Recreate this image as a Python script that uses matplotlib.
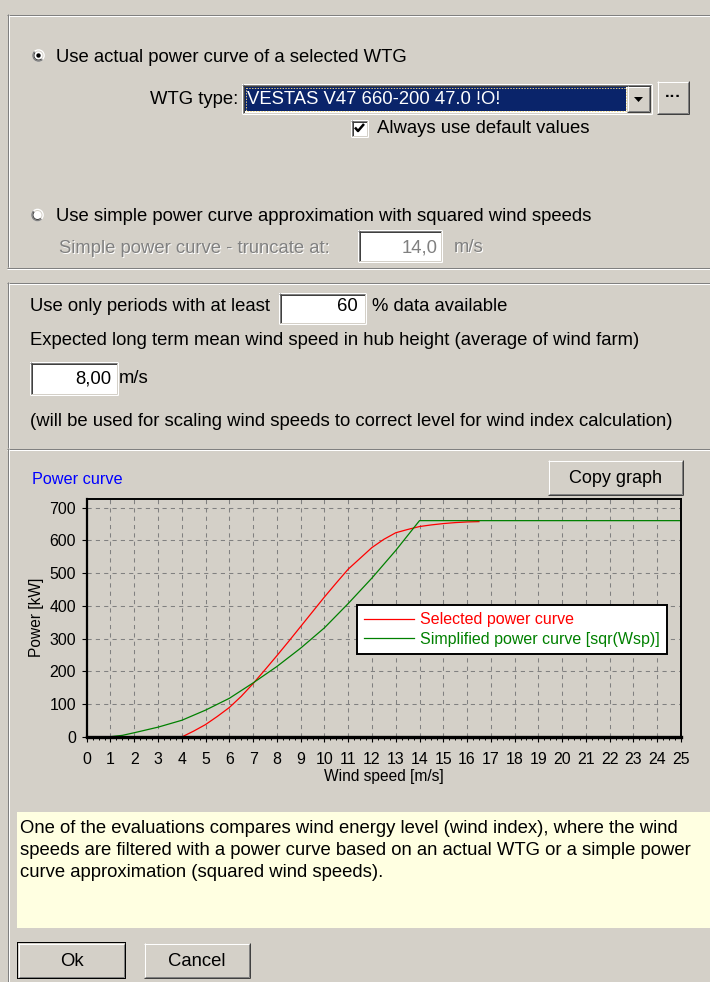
import matplotlib
matplotlib.use("Agg")
import matplotlib.pyplot as plt
from matplotlib.patches import Rectangle, Circle, Polygon, Wedge
from matplotlib.ticker import MultipleLocator

plt.rcParams['font.family'] = ['Liberation Sans', 'DejaVu Sans']
plt.rcParams['lines.scale_dashes'] = False

# ---------------- data ----------------
wind_selected = [4, 4.5, 5, 5.5, 6, 6.5, 7, 7.5, 8, 8.5, 9, 9.5, 10, 10.5, 11,
                 11.5, 12, 12.5, 13, 13.5, 14, 14.5, 15, 15.5, 16, 16.5]
power_selected = [0, 18, 38, 63, 90, 124, 163, 205, 248, 292, 337, 382, 427, 470,
                  512, 545, 578, 603, 623, 633, 642, 647, 651, 654, 656, 657]
wind_simplified = [0.5, 1, 1.5, 2, 3, 4, 5, 6, 7, 8, 9, 10, 11, 12, 13, 14, 25]
power_simplified = [0, 1, 5, 13, 30, 51, 82, 118, 165, 215, 271, 333, 407, 485, 569, 660, 660]
x_ticks = list(range(0, 26))
y_ticks = list(range(0, 701, 100))
series_labels = ['Selected power curve', 'Simplified power curve [sqr(Wsp)]']
series_colors = ['#FF0000', '#008000']

W, H = 710, 982
GREY = '#D4D0C8'
DARK = '#808080'
DARKER = '#404040'
NAVY = '#0A246A'
YELLOW = '#FFFFE1'
FS = 13.3

fig = plt.figure(figsize=(W / 100, H / 100), dpi=100, facecolor=GREY)
bg = fig.add_axes([0, 0, 1, 1])
bg.set_xlim(0, W)
bg.set_ylim(H, 0)
bg.axis('off')
LW = 0.72


def hl(x0, x1, y, c):
    bg.plot([x0, x1], [y + 0.5, y + 0.5], color=c, lw=LW, solid_capstyle='butt')


def vl(x, y0, y1, c):
    bg.plot([x + 0.5, x + 0.5], [y0, y1], color=c, lw=LW, solid_capstyle='butt')


def rect(x0, y0, x1, y1, fc):
    bg.add_patch(Rectangle((x0, y0), x1 - x0, y1 - y0, facecolor=fc, edgecolor='none'))


def sunken(x0, y0, x1, y1, fill='white'):
    rect(x0, y0, x1, y1, fill)
    hl(x0, x1, y0, DARK); vl(x0, y0, y1, DARK)
    hl(x0 + 1, x1 - 1, y0 + 1, DARKER); vl(x0 + 1, y0 + 1, y1 - 1, DARKER)
    hl(x0, x1, y1 - 1, 'white'); vl(x1 - 1, y0, y1, 'white')
    hl(x0 + 1, x1 - 1, y1 - 2, GREY); vl(x1 - 2, y0 + 1, y1 - 1, GREY)


def raised(x0, y0, x1, y1):
    rect(x0, y0, x1, y1, GREY)
    hl(x0, x1, y0, 'white'); vl(x0, y0, y1, 'white')
    hl(x0, x1, y1 - 1, DARKER); vl(x1 - 1, y0, y1, DARKER)
    hl(x0 + 1, x1 - 1, y1 - 2, DARK); vl(x1 - 2, y0 + 1, y1 - 1, DARK)


def txt(x, y, s, ha='left', color='black', size=FS, disabled=False, **kw):
    if disabled:
        bg.text(x + 1, y + 1, s, ha=ha, va='baseline', color='white', fontsize=size, **kw)
        color = DARK
    bg.text(x, y, s, ha=ha, va='baseline', color=color, fontsize=size, **kw)


def etched_panel(y0, y1):
    hl(7, W, y0, DARK); hl(8, W, y0 + 1, 'white')
    vl(7, y0, y1, DARK); vl(8, y0 + 1, y1, 'white')
    hl(7, W, y1, DARK); hl(7, W, y1 + 1, 'white')


def radio(cx, cy, checked):
    bg.add_patch(Circle((cx, cy), 6.3, facecolor='white', edgecolor='none'))
    bg.add_patch(Wedge((cx, cy), 6.3, 45, 225, width=1.3, facecolor=DARK, edgecolor='none'))
    bg.add_patch(Wedge((cx, cy), 5.0, 45, 225, width=1.0, facecolor=DARKER, edgecolor='none'))
    bg.add_patch(Wedge((cx, cy), 5.0, 225, 405, width=1.0, facecolor=GREY, edgecolor='none'))
    if checked:
        bg.add_patch(Circle((cx, cy), 2.2, facecolor='black', edgecolor='none'))


# ---------------- panels ----------------
etched_panel(14, 267)
etched_panel(282, 448)
vl(7, 449, H, DARK)
vl(8, 449, H, 'white')

# panel 1
radio(38.5, 55.5, True)
txt(56, 61.5, 'Use actual power curve of a selected WTG')
txt(238, 104, 'WTG type:', ha='right')
sunken(242, 84, 652, 114)
rect(245, 87, 626, 111, NAVY)
bg.add_patch(Rectangle((245.5, 87.5), 380, 23, facecolor='none', edgecolor='#E8D080',
                       lw=0.7, linestyle=(0, (1, 1))))
txt(247, 104, 'VESTAS V47 660-200 47.0 !O!', color='white')
raised(627, 86, 650, 112)
bg.add_patch(Polygon([[634, 97], [643, 97], [638.5, 102]], closed=True,
                     facecolor='black', edgecolor='none'))
raised(657, 81, 689, 114)
txt(673, 101, '···', ha='center', size=12, fontweight='bold')

sunken(351, 120, 368, 137)
bg.plot([355, 358, 364], [127.5, 131, 124], color='black', lw=1.8, solid_capstyle='butt')
txt(377, 133, 'Always use default values')

radio(37.5, 215, False)
txt(56, 221, 'Use simple power curve approximation with squared wind speeds')
txt(59, 253, 'Simple power curve - truncate at:', disabled=True)
sunken(358, 230, 442, 262)
txt(438, 252, '14,0', ha='right', color=DARK)
txt(454, 252, 'm/s', disabled=True)

# panel 2
txt(30, 311, 'Use only periods with at least')
sunken(279, 293, 366, 324)
txt(358, 311, '60', ha='right')
txt(372, 311, '% data available')
txt(30, 345, 'Expected long term mean wind speed in hub height (average of wind farm)')
sunken(30, 362, 118, 395)
txt(111, 383, '8,00', ha='right')
txt(119, 383, 'm/s')
txt(30, 426, '(will be used for scaling wind speeds to correct level for wind index calculation)')

# chart header
txt(32, 483.5, 'Power curve', color='#0000FF', size=11.7)
raised(548, 460, 683, 495)
txt(615.5, 483, 'Copy graph', ha='center', size=13)

# help box
rect(17, 812, W, 928, YELLOW)
txt(20, 833, 'One of the evaluations compares wind energy level (wind index), where the wind')
txt(20, 855, 'speeds are filtered with a power curve based on an actual WTG or a simple power')
txt(20, 877, 'curve approximation (squared wind speeds).')

# buttons
rect(17, 942, 126, 979, 'black')
raised(18, 943, 125, 978)
hl(18, 125, 977, 'black'); vl(124, 943, 978, 'black')
txt(71.5, 966.5, 'Ok', ha='center')
raised(144, 943, 250, 978)
txt(197, 966.5, 'Cancel', ha='center')

# ---------------- chart ----------------
L, R, T, B = 86.7, 681.0, 499.0, 737.0
ax = fig.add_axes([L / W, 1 - B / H, (R - L) / W, (B - T) / H])
ax.set_facecolor(GREY)
ax.set_xlim(0, 25)
ax.set_ylim(0, 726)
ax.set_xticks(x_ticks)
ax.set_yticks(y_ticks)
ax.xaxis.set_minor_locator(MultipleLocator(0.25))
ax.grid(True, which='major', color=DARK, lw=0.75, linestyle=(0, (3, 3)))
ax.set_axisbelow(True)

ax.plot(wind_selected, power_selected, color=series_colors[0], lw=0.9, label=series_labels[0])
ax.plot(wind_simplified, power_simplified, color=series_colors[1], lw=0.9, label=series_labels[1])

for side, lw in (('left', 1.6), ('bottom', 2.4), ('top', 1.4), ('right', 1.4)):
    ax.spines[side].set_linewidth(lw)
    ax.spines[side].set_color('black')

ax.tick_params(axis='both', which='major', direction='out', length=3.6, width=0.8,
               labelsize=11.4, colors='black')
ax.tick_params(axis='x', which='major', pad=7)
ax.tick_params(axis='y', which='major', pad=4)
ax.tick_params(axis='x', which='minor', direction='out', length=2.5, width=0.7)

ax.set_xlabel('Wind speed [m/s]', fontsize=11.2, va='center')
ax.xaxis.set_label_coords(0.5, (B - 777) / (B - T))
ax.set_ylabel('Power [kW]', fontsize=11.2, va='center')
ax.yaxis.set_label_coords((37 - L) / (R - L), 0.504)

leg = ax.legend(loc='upper left', bbox_to_anchor=(357 / W, 1 - 605 / H),
                bbox_transform=fig.transFigure, frameon=True, fancybox=False,
                framealpha=1, facecolor='white', edgecolor='black', borderpad=0.45,
                handlelength=3.1, handletextpad=0.4, labelspacing=0.3, fontsize=11.5,
                borderaxespad=0)
leg.get_frame().set_linewidth(1.4)
for t, c in zip(leg.get_texts(), series_colors):
    t.set_color(c)

fig.savefig('out.png', dpi=100, facecolor=GREY)
